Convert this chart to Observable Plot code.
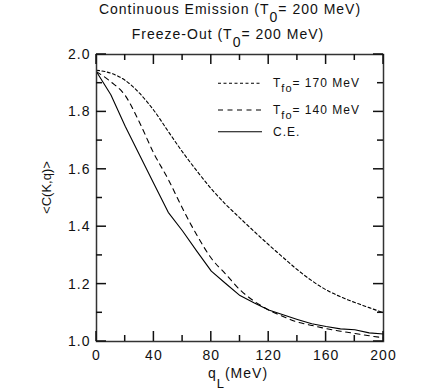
<!DOCTYPE html>
<html><head><meta charset="utf-8">
<script src="https://cdn.jsdelivr.net/npm/d3@7"></script>
<script src="https://cdn.jsdelivr.net/npm/@observablehq/plot@0.6"></script>
<style>body{margin:0;background:#fff} svg{display:block}</style>
</head><body><div id="chart"></div>
<script>
// ---- data ----
const qL = [0,10,20,30,40,50,60,70,80,90,100,110,120,130,140,150,160,170,180,190,200];
const tfo170 = [1.945,1.935,1.91,1.865,1.805,1.732,1.66,1.594,1.532,1.478,1.43,1.383,1.337,1.293,1.25,1.212,1.18,1.156,1.136,1.118,1.10];
const tfo140 = [1.94,1.905,1.857,1.763,1.655,1.565,1.463,1.37,1.29,1.235,1.18,1.14,1.11,1.087,1.068,1.056,1.045,1.036,1.028,1.02,1.013];
const ce = [1.94,1.86,1.75,1.65,1.55,1.45,1.385,1.314,1.245,1.202,1.16,1.134,1.11,1.093,1.077,1.062,1.052,1.044,1.041,1.030,1.026];
const seriesNames = ["T_{fo}= 170 MeV", "T_{fo}= 140 MeV", "C.E."];
const titleLines = ["Continuous Emission (T_{0}= 200 MeV)", "Freeze-Out (T_{0}= 200 MeV)"];
const xLabel = "q_{L}(MeV)";
const yLabel = "<C(K,q)>";
const xTickLabels = [0,40,80,120,160,200];
const xMinorTicks = [20,60,100,140,180];
const yTickLabels = [1.0,1.2,1.4,1.6,1.8,2.0];
const yMinorTicks = [1.1,1.3,1.5,1.7,1.9];
const xDomain = [0, 200];
const yDomain = [1, 2];

// ---- layout ----
const W = 436, H = 392;
const mL = 96, mR = 53, mT = 54, mB = 51;
const dashes = [[3,2.5],[5,4.5],null];
const seriesValues = [tfo170, tfo140, ce];
const curves = ["monotone-x","monotone-x","linear"];
const majLen = 10, minLen = 6;

const lineMarks = seriesValues.map((vals, s) =>
  Plot.line(qL.map((q, i) => ({q, c: vals[i]})), {
    x: "q", y: "c", stroke: "#000", strokeWidth: 1.1, curve: curves[s],
    strokeDasharray: dashes[s] ? dashes[s].join(",") : null
  })
);

// tick segments as data (value, side, length) -> drawn with Plot.link through the scales
const tickRows = [];
[[xTickLabels, majLen], [xMinorTicks, minLen]].forEach(([vals, len]) => vals.forEach(v => {
  tickRows.push({dir: "x", v, side: 0, len});
  tickRows.push({dir: "x", v, side: 1, len});
}));
[[yTickLabels, majLen], [yMinorTicks, minLen]].forEach(([vals, len]) => vals.forEach(v => {
  tickRows.push({dir: "y", v, side: 0, len});
  tickRows.push({dir: "y", v, side: 1, len});
}));

const plot = Plot.plot({
  width: W, height: H,
  marginLeft: mL, marginRight: mR, marginTop: mT, marginBottom: mB,
  style: {fontFamily: "'Liberation Sans', Arial, sans-serif", fontSize: "14px", letterSpacing: "1px", color: "#111", background: "#fff"},
  x: {domain: xDomain},
  y: {domain: yDomain},
  marks: [
    Plot.axisX(xTickLabels, {anchor: "bottom", tickSize: 0, tickPadding: 9, label: null, fontSize: 14}),
    Plot.axisY(yTickLabels, {anchor: "left", tickSize: 0, tickPadding: 6, tickFormat: d3.format(".1f"), label: null, fontSize: 14}),
    ...lineMarks,
    Plot.frame({stroke: "#333", strokeWidth: 1.5})
  ]
});
document.getElementById("chart").appendChild(plot);

const svg = d3.select(plot);
const X = d3.scaleLinear(xDomain, [mL, W - mR]);
const Y = d3.scaleLinear(yDomain, [H - mB, mT]);
const x0 = X(xDomain[0]), x1 = X(xDomain[1]), y0 = Y(yDomain[0]), y1 = Y(yDomain[1]);

// ---- inward ticks on all four sides ----
const tg = svg.append("g").attr("class", "inward-ticks");
tickRows.forEach(t => {
  let a, b, c, e;
  if (t.dir === "x") {
    const xv = X(t.v);
    if (t.side === 0) { a = xv; b = y0; c = xv; e = y0 - t.len; }
    else { a = xv; b = y1; c = xv; e = y1 + t.len; }
  } else {
    const yv = Y(t.v);
    if (t.side === 0) { a = x0; b = yv; c = x0 + t.len; e = yv; }
    else { a = x1; b = yv; c = x1 - t.len; e = yv; }
  }
  tg.append("line")
    .attr("x1", a).attr("y1", b).attr("x2", c).attr("y2", e)
    .attr("stroke", "#111").attr("stroke-width", 1.5);
});

// ---- text with subscripts ----
function rich(x, y, str, {size = 14, subSize = 13, subDy = 8, anchor = "middle", spacing = 1, rotate = 0} = {}) {
  const t = svg.append("text")
    .attr("text-anchor", anchor)
    .attr("font-size", size)
    .attr("letter-spacing", spacing + "px")
    .attr("fill", "#111")
    .attr("transform", `translate(${x},${y}) rotate(${rotate})`);
  const parts = str.split(/(_\{[^}]*\})/).filter(p => p.length);
  let shifted = false;
  parts.forEach(p => {
    const m = p.match(/^_\{([^}]*)\}$/);
    if (m) {
      t.append("tspan").attr("dy", subDy).attr("font-size", subSize).text(m[1]);
      shifted = true;
    } else {
      const ts = t.append("tspan").text(p);
      if (shifted) { ts.attr("dy", -subDy); shifted = false; }
    }
  });
  return t;
}
rich(230, 14, titleLines[0], {subSize: 14, subDy: 8});
rich(228, 39, titleLines[1], {subSize: 14, subDy: 8});
rich(238, 378, xLabel, {subSize: 13, subDy: 10});
rich(50.5, 187.5, yLabel, {size: 13, spacing: 0, rotate: -90});

// ---- legend ----
const legY = [83.3, 110, 131.7];
const legTextY = [87, 113.5, 135.5];
seriesNames.forEach((name, i) => {
  svg.append("line").attr("x1", 218).attr("x2", 262).attr("y1", legY[i]).attr("y2", legY[i])
    .attr("stroke", "#000").attr("stroke-width", 1.1)
    .attr("stroke-dasharray", dashes[i] ? dashes[i].join(",") : null);
  rich(273, legTextY[i], name, {size: 12, subSize: 11, subDy: 5, anchor: "start"});
});
</script>
</body></html>
